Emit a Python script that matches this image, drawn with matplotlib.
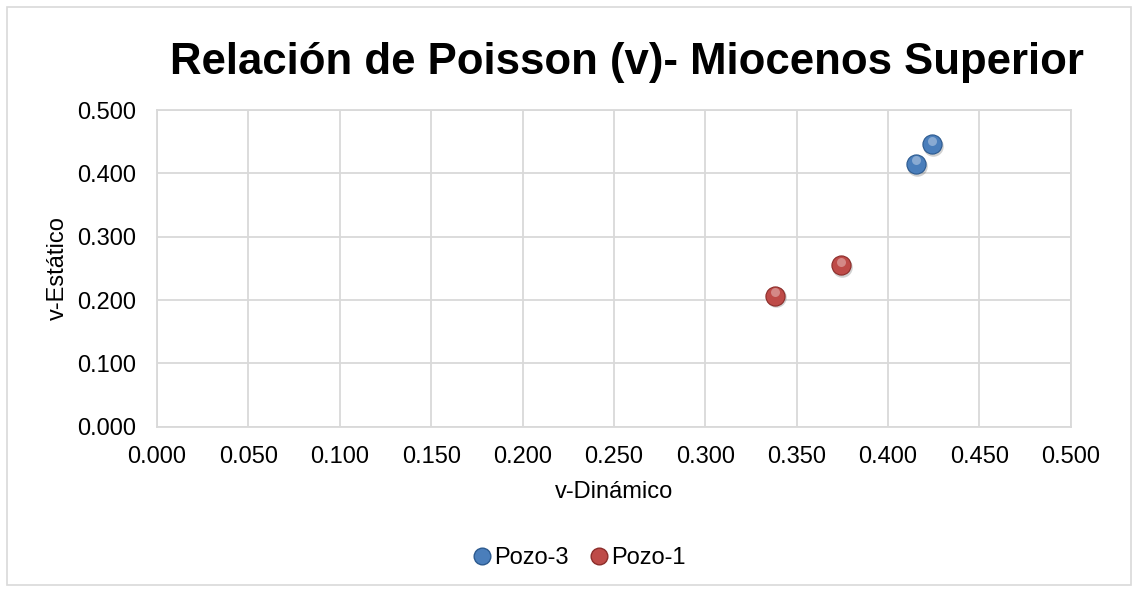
import matplotlib.pyplot as plt
from matplotlib.patches import Rectangle
from matplotlib.lines import Line2D
from matplotlib.transforms import offset_copy

plt.rcParams["font.family"] = ["Liberation Sans", "DejaVu Sans"]

# values
series_names = ["Pozo-3", "Pozo-1"]
pozo3_dyn = [0.415, 0.424]
pozo3_sta = [0.415, 0.446]
pozo1_dyn = [0.338, 0.374]
pozo1_sta = [0.207, 0.255]
tick_vals_x = [0.0, 0.05, 0.1, 0.15, 0.2, 0.25, 0.3, 0.35, 0.4, 0.45, 0.5]
tick_vals_y = [0.0, 0.1, 0.2, 0.3, 0.4, 0.5]

BLUE = "#4a7ebb"
RED = "#be4b48"
GRID = "#d9d9d9"

fig = plt.figure(figsize=(11.38, 5.92), dpi=100)
fig.patches.append(Rectangle((7 / 1138, 7 / 592), 1 - 14 / 1138, 1 - 14 / 592,
                             transform=fig.transFigure, fill=False,
                             edgecolor="#d9d9d9", linewidth=1.2))

ax = fig.add_axes([0.138, 0.279, 0.803, 0.535])


def sphere(ax, xs, ys, color, dark, size=190):
    # fake the glossy ball look of the original markers
    shadow = offset_copy(ax.transData, fig=fig, x=0.8, y=-1.2, units="points")
    ax.scatter(xs, ys, s=size * 1.15, color="#000000", alpha=0.18, zorder=3,
               linewidths=0, transform=shadow)
    ax.scatter(xs, ys, s=size, color=color, edgecolors=dark, linewidths=0.8,
               zorder=4)
    hi = offset_copy(ax.transData, fig=fig, x=0, y=2.6, units="points")
    ax.scatter(xs, ys, s=size * 0.22, color="white", alpha=0.35, zorder=5,
               linewidths=0, transform=hi)


sphere(ax, pozo3_dyn, pozo3_sta, BLUE, "#2c5a8f")
sphere(ax, pozo1_dyn, pozo1_sta, RED, "#8c2d2a")

ax.set_xlim(0, 0.5)
ax.set_ylim(0, 0.5)
ax.set_xticks(tick_vals_x)
ax.set_yticks(tick_vals_y)
ax.set_xticklabels([f"{v:.3f}" for v in tick_vals_x])
ax.set_yticklabels([f"{v:.3f}" for v in tick_vals_y])
ax.tick_params(axis="x", length=0, labelsize=17, pad=14, colors="#000000")
ax.tick_params(axis="y", length=0, labelsize=17, pad=15, colors="#000000")
ax.grid(True, color=GRID, linewidth=1.3)
ax.set_axisbelow(True)
for s in ax.spines.values():
    s.set_color(GRID)
    s.set_linewidth(1.3)

ax.set_xlabel("v-Dinámico", fontsize=17, labelpad=9)
ax.set_ylabel("v-Estático", fontsize=17, labelpad=6)
fig.text(0.551, 0.895, "Relación de Poisson (v)- Miocenos Superior",
         ha="center", va="center", fontsize=31.5, fontweight="bold")

handles = [Line2D([], [], marker="o", linestyle="", markersize=12,
                  markerfacecolor=c, markeredgecolor=d)
           for c, d in [(BLUE, "#2c5a8f"), (RED, "#8c2d2a")]]
fig.legend(handles, series_names, loc="center", bbox_to_anchor=(0.508, 0.057),
           ncol=2, frameon=False, fontsize=17, handletextpad=0.0,
           columnspacing=0.8, handlelength=1.0)

fig.savefig("out.png", dpi=100)
